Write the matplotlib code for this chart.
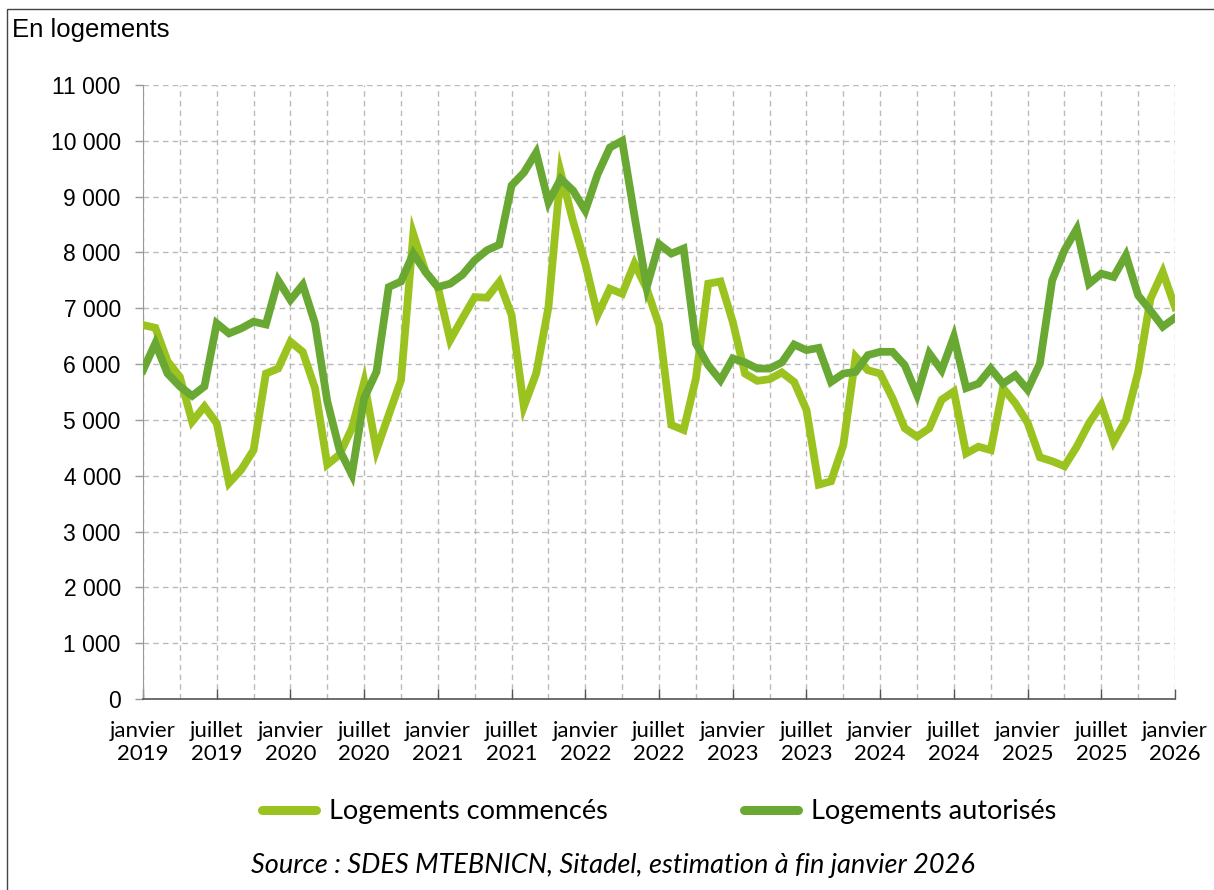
import matplotlib
matplotlib.use("Agg")
import matplotlib.pyplot as plt
import matplotlib.ticker as mticker
from matplotlib.patches import Rectangle
import pandas as pd

# monthly series, janvier 2019 -> janvier 2026
months = pd.date_range("2019-01-01", periods=85, freq="MS")

commences = [
    6700, 6650, 6050, 5770, 4970, 5240, 4940, 3870, 4110, 4460, 5830, 5920,
    6400, 6220, 5570, 4200, 4380, 4850, 5680, 4460, 5090, 5710, 8330, 7650,
    7380, 6430, 6820, 7200, 7190, 7470, 6880, 5240, 5830, 7020, 9430, 8560,
    7800, 6880, 7350, 7260, 7800, 7350, 6700, 4910, 4820, 5740, 7440, 7480,
    6760, 5830, 5700, 5730, 5850, 5680, 5180, 3840, 3900, 4550, 6130, 5890,
    5830, 5390, 4850, 4700, 4850, 5360, 5510, 4400, 4520, 4460, 5570, 5300,
    4950, 4330, 4260, 4170, 4520, 4940, 5270, 4610, 5000, 5860, 7170, 7650,
    7020,
]
autorises = [
    5890, 6370, 5830, 5600, 5430, 5600, 6730, 6550, 6640, 6760, 6710, 7500,
    7150, 7420, 6730, 5330, 4460, 4020, 5390, 5860, 7380, 7480, 7980, 7650,
    7380, 7440, 7600, 7860, 8040, 8140, 9200, 9430, 9790, 8900, 9320, 9110,
    8750, 9400, 9880, 10000, 8660, 7380, 8150, 7980, 8070, 6370, 5980, 5710,
    6100, 6030, 5920, 5920, 6030, 6350, 6250, 6290, 5680, 5830, 5860, 6160,
    6220, 6220, 5980, 5450, 6190, 5890, 6490, 5570, 5650, 5920, 5650, 5800,
    5540, 6010, 7500, 8040, 8420, 7440, 7620, 7560, 7950, 7230, 6960, 6670,
    6830,
]

mois_fr = {1: "janvier", 7: "juillet"}

LIGHT = "#9BC31F"
DARK = "#69A833"

fig = plt.figure(figsize=(12.14, 8.90), dpi=100)
ax = fig.add_axes([0.1178, 0.2146, 0.8501, 0.6899])

x = list(range(len(months)))
ax.plot(x, commences, color=LIGHT, lw=5.6, label="Logements commencés",
        solid_joinstyle="miter", zorder=3)
ax.plot(x, autorises, color=DARK, lw=5.6, label="Logements autorisés",
        solid_joinstyle="miter", zorder=4)

ax.set_xlim(0, len(months) - 1)
ax.set_ylim(0, 11000)

# x ticks: labels every 6 months, grid every 3 months
major = [i for i, d in enumerate(months) if d.month in (1, 7)]
ax.set_xticks(major)
ax.set_xticklabels([f"{mois_fr[months[i].month]}\n{months[i].year}" for i in major],
                   fontfamily="Lato", fontsize=16, linespacing=1.2)
ax.set_xticks([i for i, d in enumerate(months) if d.month in (4, 10)], minor=True)
ax.tick_params(axis="x", which="major", direction="in", length=7, width=1,
               color="#555555", pad=16)
ax.tick_params(axis="x", which="minor", length=0)

ax.yaxis.set_major_locator(mticker.MultipleLocator(1000))
ax.yaxis.set_major_formatter(mticker.FuncFormatter(lambda v, p: f"{v:,.0f}".replace(",", " ")))
ax.tick_params(axis="y", direction="out", length=6, width=1, color="#999999",
               labelsize=16.5, pad=10)
for t in ax.get_yticklabels():
    t.set_fontfamily("Liberation Sans")

ax.grid(which="both", axis="x", color="#BBBBBB", ls=(0, (4, 3)), lw=1)
ax.grid(which="major", axis="y", color="#BBBBBB", ls=(0, (4, 3)), lw=1)
ax.set_axisbelow(True)

for s in ("top", "right"):
    ax.spines[s].set_visible(False)
ax.spines["left"].set_color("#999999")
ax.spines["bottom"].set_color("#555555")
ax.spines["bottom"].set_linewidth(1.2)

handles, labels = ax.get_legend_handles_labels()
leg = fig.legend(handles, labels, loc="center", bbox_to_anchor=(0.543, 0.088),
                 ncol=2, frameon=False, handlelength=2.0, columnspacing=5.0,
                 handletextpad=0.5, prop={"family": "Lato", "size": 19.5})
for h in leg.get_lines():
    h.set_linewidth(6.5)
    h.set_solid_capstyle("round")

fig.text(0.01, 0.966, "En logements", fontsize=18.5, fontfamily="Liberation Sans",
         va="center", ha="left")
fig.text(0.505, 0.028, "Source : SDES MTEBNICN, Sitadel, estimation à fin janvier 2026",
         fontsize=19.5, fontfamily="Lato", style="italic", ha="center", va="center")

fig.patches.append(Rectangle((0.006, -0.01), 1.5, 1.0, transform=fig.transFigure,
                             fill=False, ec="#444444", lw=1))

fig.savefig("out.png", dpi=100)
